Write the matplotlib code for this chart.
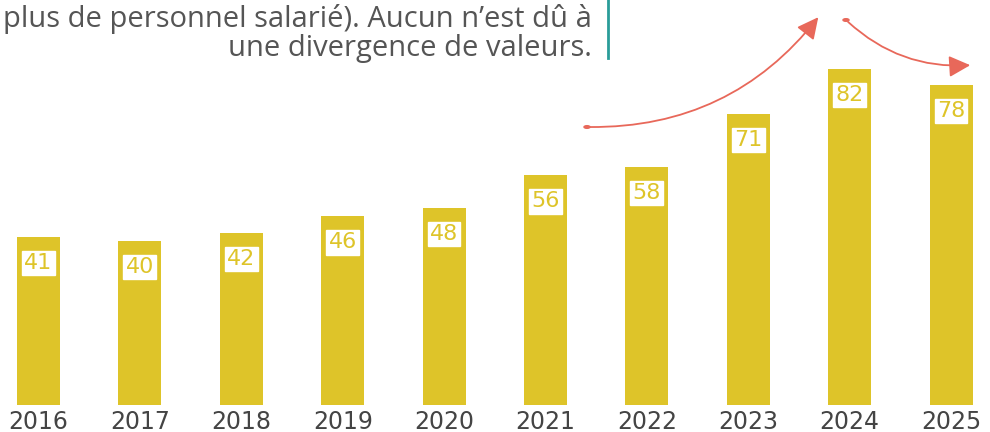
import matplotlib
matplotlib.use("Agg")
import matplotlib.pyplot as plt
from matplotlib.patches import FancyArrowPatch, Circle
from matplotlib.lines import Line2D

years = ["2016", "2017", "2018", "2019", "2020", "2021", "2022", "2023", "2024", "2025"]
values = [41, 40, 42, 46, 48, 56, 58, 71, 82, 78]
note_lines = ["plus de personnel salarié). Aucun n’est dû à", "une divergence de valeurs."]

W, H = 990, 432
BAR = "#DEC429"
RED = "#E8685A"
TEAL = "#2A9D99"
GREY = "#444444"

fig = plt.figure(figsize=(W / 100, H / 100), dpi=100)
ax = fig.add_axes([0, 27 / H, 1, 1 - 27 / H])
step = 101.4
x0 = 38.5
ax.set_xlim(-x0 / step, (W - x0) / step)
ppu = 4.1
ax.set_ylim(0, (H - 27) / ppu)

xs = list(range(len(years)))
ax.bar(xs, values, width=43 / step, color=BAR, zorder=2)
for x, v in zip(xs, values):
    ax.text(x, v - 26 / ppu, str(v), ha="center", va="center", fontsize=16,
            color=BAR, family=["DejaVu Sans"],
            bbox=dict(boxstyle="square,pad=0.1", fc="white", ec="white"), zorder=3)

ax.set_xticks(xs)
ax.set_xticklabels(years, va="center")
ax.tick_params(axis="x", length=0, pad=12, labelsize=17, labelcolor=GREY)
ax.set_yticks([])
for s in ax.spines.values():
    s.set_visible(False)

# note text
for i, line in enumerate(note_lines):
    fig.text(592 / W, 1 - (27 + 29 * i) / H, line, ha="right", va="baseline",
             fontsize=21, color="#555555", family=["Open Sans", "DejaVu Sans"])
fig.add_artist(Line2D([608 / W, 608 / W], [1, 1 - 58 / H], color=TEAL, lw=2,
                      transform=fig.transFigure))

def P(px, py):
    return (px / W, 1 - py / H)

style = "-|>,head_length=13,head_width=6.5"
a1 = FancyArrowPatch(P(587, 127), P(820, 15), transform=fig.transFigure,
                     connectionstyle="arc3,rad=0.25", arrowstyle=style,
                     color=RED, lw=1.3, mutation_scale=1)
a2 = FancyArrowPatch(P(846, 20), P(973, 65), transform=fig.transFigure,
                     connectionstyle="arc3,rad=0.22", arrowstyle=style,
                     color=RED, lw=1.3, mutation_scale=1)
fig.add_artist(a1)
fig.add_artist(a2)
for (px, py) in [(587, 127), (846, 20)]:
    fig.add_artist(Circle(P(px, py), 3 / W, transform=fig.transFigure, color=RED))

fig.savefig("out.png", dpi=100)
